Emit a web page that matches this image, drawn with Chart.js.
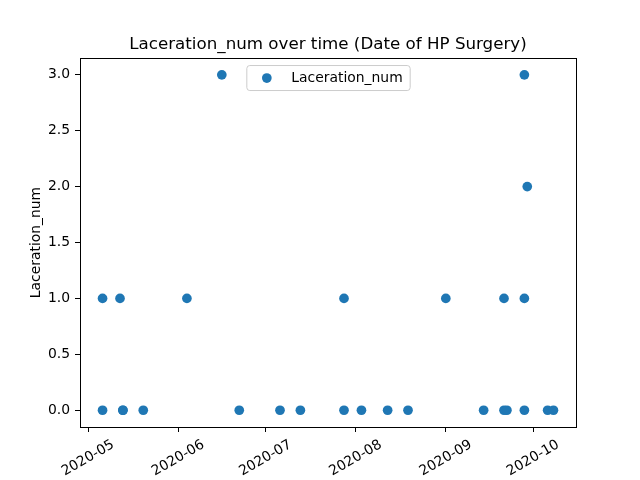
<!DOCTYPE html>
<html>
<head>
<meta charset="utf-8">
<script src="https://cdn.jsdelivr.net/npm/chart.js@4.4.1/dist/chart.umd.min.js"></script>
<style>
  html, body { margin: 0; padding: 0; background: #fff; }
  canvas { display: block; }
</style>
</head>
<body>
<canvas id="ch" width="640" height="480"></canvas>
<script>
// Laceration_num scatter, dates of HP surgery
var DATES = [
  "2020-05-06", "2020-05-06", "2020-05-12", "2020-05-13", "2020-05-13",
  "2020-05-20", "2020-06-04", "2020-06-16", "2020-06-22", "2020-07-06",
  "2020-07-13", "2020-07-28", "2020-07-28", "2020-08-03", "2020-08-12",
  "2020-08-19", "2020-09-01", "2020-09-14", "2020-09-21", "2020-09-21",
  "2020-09-22", "2020-09-28", "2020-09-28", "2020-09-28", "2020-09-29",
  "2020-10-06", "2020-10-08"
];
var VALUES = [
  1, 0, 1, 0, 0,
  0, 1, 3, 0, 0,
  0, 1, 0, 0, 0,
  0, 1, 0, 1, 0,
  0, 3, 1, 0, 2,
  0, 0
];
var X_TICKS = ["2020-05", "2020-06", "2020-07", "2020-08", "2020-09", "2020-10"];
var Y_TICKS = [0, 0.5, 1, 1.5, 2, 2.5, 3];

var BLUE = "#1f77b4", FONT = "'DejaVu Sans', sans-serif";

var pts = DATES.map(function (d, i) { return { x: Date.parse(d), y: VALUES[i] }; });
var xs = pts.map(function (p) { return p.x; });
var xMin = Math.min.apply(null, xs), xMax = Math.max.apply(null, xs);
var xPad = (xMax - xMin) * 0.05;

// right/top frame lines of the axes box
var frame = {
  id: "frame",
  afterDraw: function (chart) {
    var a = chart.chartArea, ctx = chart.ctx;
    ctx.save();
    ctx.strokeStyle = "#000";
    ctx.lineWidth = 1;
    ctx.strokeRect(Math.round(a.left) + 0.5, Math.round(a.top) + 0.5, Math.round(a.right - a.left), Math.round(a.bottom - a.top));
    ctx.restore();
  }
};

// x tick labels, centred on the tick and rotated 30deg like matplotlib
var xLabels = {
  id: "xLabels",
  afterDraw: function (chart) {
    var ctx = chart.ctx, sx = chart.scales.x, bottom = chart.chartArea.bottom;
    ctx.save();
    ctx.font = "13.9px " + FONT;
    ctx.fillStyle = "#000";
    ctx.textAlign = "center";
    ctx.textBaseline = "middle";
    X_TICKS.forEach(function (lab) {
      var px = sx.getPixelForValue(Date.parse(lab + "-01"));
      var w = ctx.measureText(lab).width, h = 16;
      var bh = w * Math.sin(Math.PI / 6) + h * Math.cos(Math.PI / 6);
      ctx.save();
      ctx.translate(px, bottom + 9.8 + bh / 2);
      ctx.rotate(-Math.PI / 6);
      ctx.fillText(lab, 0, 0);
      ctx.restore();
    });
    ctx.restore();
  }
};

// framed legend, upper centre of the axes
var boxLegend = {
  id: "boxLegend",
  afterDraw: function (chart) {
    var ctx = chart.ctx, a = chart.chartArea, ds = chart.data.datasets[0];
    ctx.save();
    ctx.font = "13.9px " + FONT;
    var tw = ctx.measureText(ds.label).width;
    var w = tw + 52, h = 25;
    var x0 = (a.left + a.right) / 2 - w / 2, y0 = a.top + 7;
    ctx.beginPath();
    ctx.roundRect(x0 + 0.5, y0 + 0.5, w, h, 3);
    ctx.fillStyle = "rgba(255,255,255,0.8)";
    ctx.fill();
    ctx.strokeStyle = "#cccccc";
    ctx.lineWidth = 1;
    ctx.stroke();
    ctx.beginPath();
    ctx.arc(x0 + 20.5, y0 + h / 2 + 0.5, 4.85, 0, Math.PI * 2);
    ctx.fillStyle = ds.backgroundColor;
    ctx.fill();
    ctx.fillStyle = "#000";
    ctx.textBaseline = "middle";
    ctx.fillText(ds.label, x0 + 45, y0 + h / 2 + 1);
    ctx.restore();
  }
};

new Chart(document.getElementById("ch"), {
  type: "scatter",
  data: {
    datasets: [{
      label: "Laceration_num",
      data: pts,
      backgroundColor: BLUE, borderColor: BLUE,
      pointRadius: 4.85, pointHoverRadius: 4.85, borderWidth: 0
    }]
  },
  plugins: [frame, xLabels, boxLegend],
  options: {
    responsive: false, animation: false, devicePixelRatio: 1,
    layout: { padding: { left: 0, right: 64, top: 0, bottom: 0 } },
    plugins: {
      legend: { display: false },
      tooltip: { enabled: false },
      title: {
        display: true, fullSize: false, text: "Laceration_num over time (Date of HP Surgery)",
        color: "#000", font: { family: FONT, size: 16.7, weight: "normal", lineHeight: 1.2 },
        padding: { top: 35, bottom: 3 }
      }
    },
    scales: {
      x: {
        type: "linear", min: xMin - xPad, max: xMax + xPad,
        afterBuildTicks: function (s) {
          s.ticks = X_TICKS.map(function (t) { return { value: Date.parse(t + "-01") }; });
        },
        afterFit: function (s) { s.height = 53; },
        ticks: { display: false },
        grid: { drawOnChartArea: false, drawTicks: true, tickLength: 5, tickColor: "#000", tickWidth: 1 },
        border: { display: true, color: "#000", width: 1 }
      },
      y: {
        min: -0.15, max: 3.15,
        afterBuildTicks: function (s) {
          s.ticks = Y_TICKS.map(function (v) { return { value: v }; });
        },
        afterFit: function (s) { s.width = 80; },
        ticks: {
          color: "#000", padding: 5, font: { family: FONT, size: 13.9 },
          callback: function (v) { return Number(v).toFixed(1); }
        },
        grid: { drawOnChartArea: false, drawTicks: true, tickLength: 5, tickColor: "#000", tickWidth: 1 },
        border: { display: true, color: "#000", width: 1 },
        title: {
          display: true, text: "Laceration_num", color: "#000",
          font: { family: FONT, size: 13.9, lineHeight: 1.2 },
          padding: { top: 28, bottom: 0 }
        }
      }
    }
  }
});
</script>
</body>
</html>
